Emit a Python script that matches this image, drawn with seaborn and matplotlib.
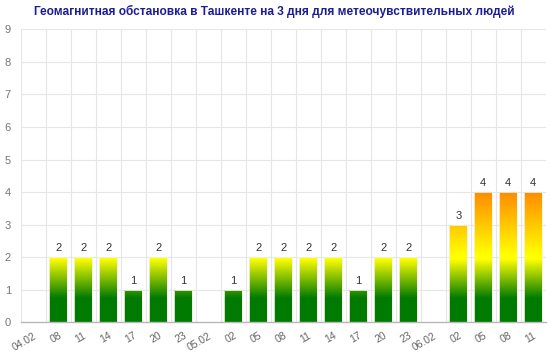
import numpy as np
import pandas as pd
import matplotlib
matplotlib.use('Agg')
import matplotlib.pyplot as plt
from matplotlib.colors import LinearSegmentedColormap
from matplotlib.ticker import MultipleLocator, FixedLocator
import seaborn as sns

# данные: индекс Kp по трёхчасовым интервалам
hours = ['04.02', '08', '11', '14', '17', '20', '23',
         '05.02', '02', '05', '08', '11', '14', '17', '20', '23',
         '06.02', '02', '05', '08', '11']
kp = [0, 2, 2, 2, 1, 2, 1,
      0, 1, 2, 2, 2, 2, 1, 2, 2,
      0, 3, 4, 4, 4]
title = 'Геомагнитная обстановка в Ташкенте на 3 дня для метеочувствительных людей'

df = pd.DataFrame({'slot': range(len(hours)), 'kp': kp})

sns.set_style('white')
plt.rcParams['font.family'] = ['Liberation Sans', 'DejaVu Sans']

fig = plt.figure(figsize=(5.6, 3.58), dpi=100)
ax = fig.add_axes([20.7 / 560, 1 - 322.3 / 358, 525 / 560, (322.3 - 29.3) / 358])

sns.barplot(data=df, x='slot', y='kp', color='#008000', width=0.71,
            ax=ax, zorder=2)

# градиент зелёный -> жёлтый -> оранжевый по высоте
top = 4.0
cmap = LinearSegmentedColormap.from_list('kp', [
    (0.0, '#007a00'), (0.72 / top, '#007a00'), (1.92 / top, '#ffff00'),
    (2.05 / top, '#ffff00'), (1.0, '#ff8a00')])
grad = np.linspace(0, 1, 256).reshape(-1, 1)
for patch, v in zip(ax.patches, kp):
    if v <= 0:
        patch.set_visible(False)
        continue
    x0 = patch.get_x()
    w = patch.get_width()
    patch.set_facecolor('none')
    patch.set_edgecolor('#f2f2e0')
    patch.set_linewidth(0.6)
    im = ax.imshow(grad, extent=[x0, x0 + w, 0, top], origin='lower',
                   aspect='auto', cmap=cmap, zorder=1.9)
    im.set_clip_path(patch)
    ax.text(x0 + w / 2, v + 0.12, str(v), ha='center', va='bottom',
            fontsize=8, color='#333333')

ax.set_xlim(-0.5, len(hours) - 0.5)
ax.set_ylim(0, 9)
ax.yaxis.set_major_locator(MultipleLocator(1))
ax.set_xticks(range(len(hours)))
ax.set_xticklabels(hours, rotation=30, ha='right', rotation_mode='anchor',
                   fontsize=7.5, color='#666666')
ax.xaxis.set_minor_locator(FixedLocator(np.arange(-0.5, len(hours) - 1, 1.0)))
ax.tick_params(axis='x', which='both', length=0, pad=6)
ax.tick_params(axis='y', length=0, pad=7, labelsize=8, labelcolor='#777777')
ax.grid(axis='y', which='major', color='#e6e6e6', lw=0.8, zorder=0)
ax.grid(axis='x', which='minor', color='#e6e6e6', lw=0.8, zorder=0)
ax.grid(axis='x', which='major', visible=False)
ax.set_axisbelow(True)
ax.set_xlabel('')
ax.set_ylabel('')
for s in ['top', 'right', 'left']:
    ax.spines[s].set_visible(False)
ax.spines['bottom'].set_color('#b8b8b8')
ax.spines['bottom'].set_linewidth(1)

fig.text(274.5 / 560, 1 - 11 / 358, title, ha='center', va='center',
         fontsize=8.55, fontweight='bold', color='#1c1c96')

fig.savefig('out.png', dpi=100)
